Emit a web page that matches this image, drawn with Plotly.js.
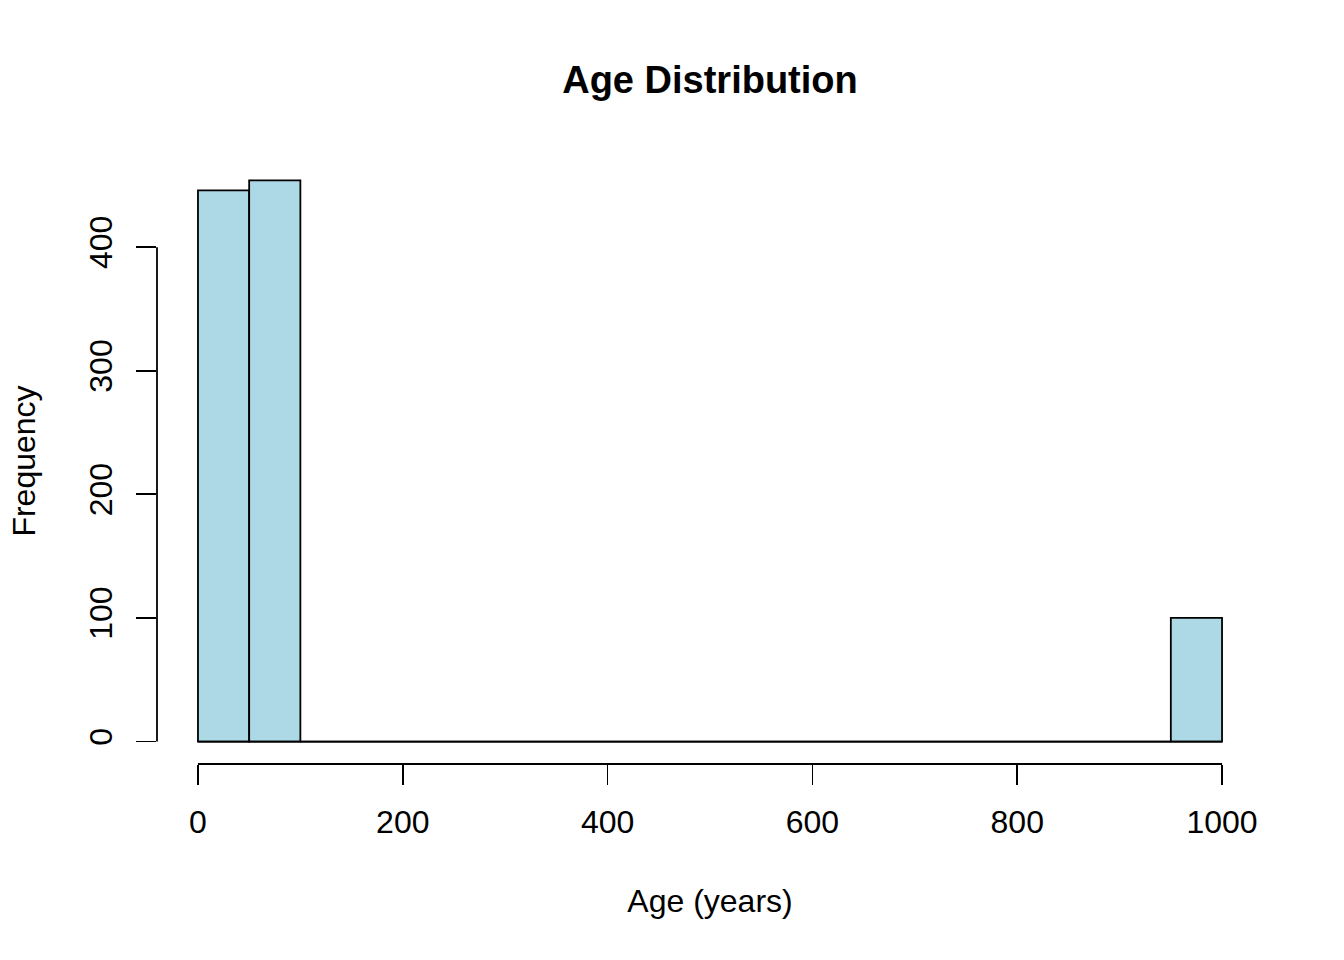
<!DOCTYPE html>
<html><head><meta charset="utf-8">
<script src="https://cdn.plot.ly/plotly-3.0.1.min.js"></script>
<style>body{margin:0;background:#fff}</style>
</head><body>
<div id="chart" style="width:1344px;height:960px"></div>
<script>
// Histogram bins (width 50) from 0 to 1000
const binStarts = [0,50,100,150,200,250,300,350,400,450,500,550,600,650,700,750,800,850,900,950];
const binWidth = 50;
const counts = [446,454,0,0,0,0,0,0,0,0,0,0,0,0,0,0,0,0,0,100];
const xTicks = [0,200,400,600,800,1000];
const yTicks = [0,100,200,300,400];

const centers = binStarts.map(s => s + binWidth/2);
const maxCount = Math.max(...counts);
const xMin = binStarts[0], xMax = binStarts[binStarts.length-1] + binWidth;
const xPad = (xMax - xMin) * 0.04, yPad = maxCount * 0.04;
const font = 'Liberation Sans, Arial, Helvetica, sans-serif';

const bars = {
  type: 'bar', x: centers, y: counts, width: binWidth,
  marker: {color: '#ADD8E6', line: {color: '#000', width: 1.8}},
  hoverinfo: 'x+y'
};
// baseline of empty bins
const base = {
  type: 'scatter', mode: 'lines', x: [xMin, xMax], y: [0, 0],
  line: {color: '#000', width: 1.8}, hoverinfo: 'skip'
};

const layout = {
  width: 1344, height: 960,
  paper_bgcolor: '#fff', plot_bgcolor: '#fff',
  showlegend: false,
  margin: {l: 157, r: 81, t: 158, b: 196},
  font: {family: font, size: 32, color: '#000'},
  title: {text: '<b>Age Distribution</b>', font: {family: font, size: 38, color: '#000'},
          x: 710/1344, xref: 'container', xanchor: 'center', y: 1 - 80/960, yref: 'container', yanchor: 'middle'},
  xaxis: {
    range: [xMin - xPad, xMax + xPad], tickvals: xTicks, ticktext: xTicks.map(String),
    ticks: 'outside', ticklen: 20, tickwidth: 1.8, tickcolor: '#000',
    showline: false, zeroline: false, showgrid: false,
    tickfont: {family: font, size: 32}, ticklabelstandoff: 10,
    title: {text: 'Age (years)', font: {family: font, size: 32}, standoff: 50}
  },
  yaxis: {
    range: [-yPad, maxCount + yPad], tickvals: yTicks, ticktext: yTicks.map(String),
    ticks: 'outside', ticklen: 20, tickwidth: 1.8, tickcolor: '#000', tickangle: -90,
    showline: false, zeroline: false, showgrid: false,
    tickfont: {family: font, size: 32}, ticklabelstandoff: 11,
    title: {text: 'Frequency', font: {family: font, size: 32}, standoff: 38}
  },
  shapes: [
    {type: 'line', xref: 'x', yref: 'paper', x0: xTicks[0], x1: xTicks[xTicks.length-1], y0: 0, y1: 0,
     line: {color: '#000', width: 1.8}},
    {type: 'line', xref: 'paper', yref: 'y', x0: 0, x1: 0, y0: yTicks[0], y1: yTicks[yTicks.length-1],
     line: {color: '#000', width: 1.8}}
  ]
};

Plotly.newPlot('chart', [base, bars], layout, {displayModeBar: false, staticPlot: true});
</script>
</body></html>
